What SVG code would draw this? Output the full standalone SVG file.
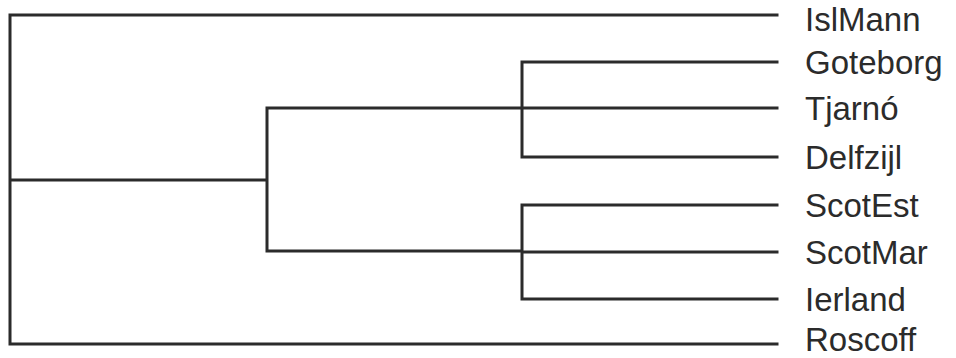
<svg xmlns="http://www.w3.org/2000/svg" width="956" height="358" viewBox="0 0 956 358">
<style>
.l{fill:none;stroke:#2b2b2b;stroke-width:3;stroke-linecap:square}
.t{font-family:"Liberation Sans",Arial,sans-serif;font-size:33px;fill:#2b2b2b}
</style>
<rect width="956" height="358" fill="#ffffff"/>
<g id="connectors">
<path class="l" d="M10,15 V344 M10,15 H777 M10,344 H777 M10,180 H267 M267,108 V251 M267,108 H522 M267,251 H522 M522,62 V157 M522,62 H777 M522,108 H777 M522,157 H777 M522,205 V299 M522,205 H777 M522,252 H777 M522,299 H777"/>
</g>
<g id="IslMann"><text class="t" x="805" y="30.5">IslMann</text></g>
<g id="Goteborg"><text class="t" x="805" y="74">Goteborg</text></g>
<g id="Tjarno"><text class="t" x="805" y="120">Tjarnó</text></g>
<g id="Delfzijl"><text class="t" x="805" y="169">Delfzijl</text></g>
<g id="ScotEst"><text class="t" x="805" y="217">ScotEst</text></g>
<g id="ScotMar"><text class="t" x="805" y="264">ScotMar</text></g>
<g id="Ierland"><text class="t" x="805" y="311">Ierland</text></g>
<g id="Roscoff"><text class="t" x="805" y="350.5">Roscoff</text></g>
</svg>
